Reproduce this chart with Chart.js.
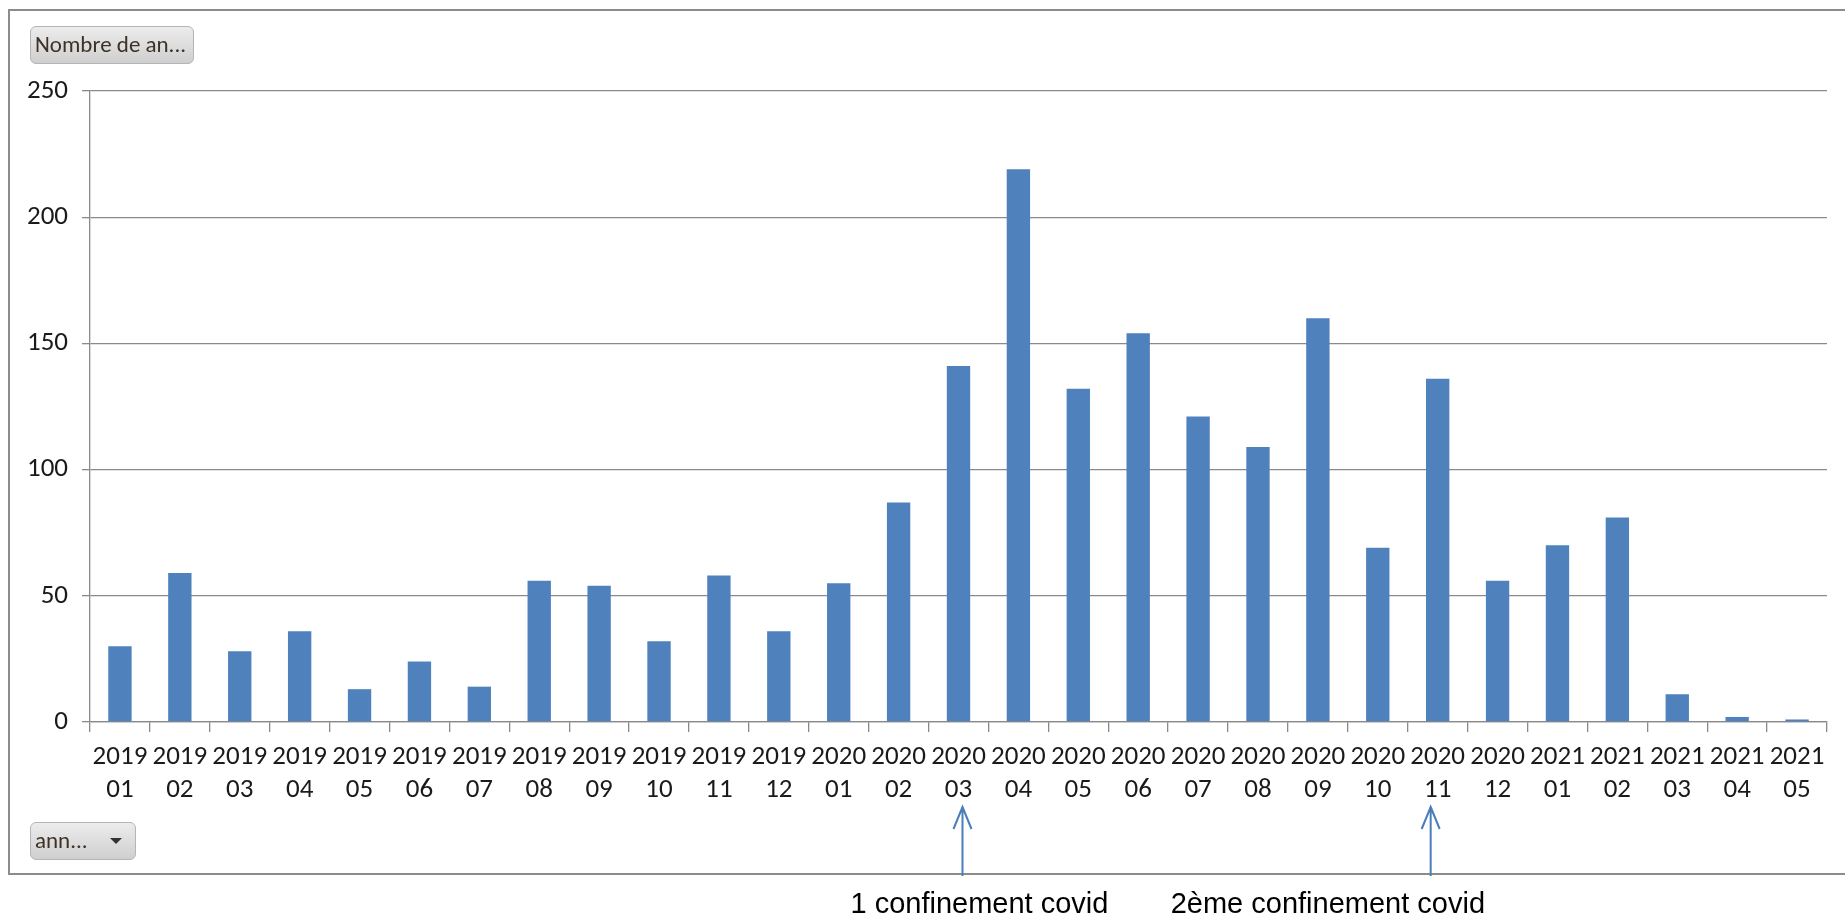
<!DOCTYPE html>
<html>
<head>
<meta charset="utf-8">
<script src="https://cdn.jsdelivr.net/npm/chart.js@4"></script>
<style>
  body { margin: 0; background: #fff; width: 1845px; height: 918px; overflow: hidden; position: relative; }
  #frame { position: absolute; left: 8px; top: 9px; width: 1860px; height: 866px; border: 2px solid #8c8c8c; border-right: none; box-sizing: border-box; }
  #chart { position: absolute; left: 0; top: 0; }
  .btn { position: absolute; box-sizing: border-box; border: 1px solid #b5b5b5; border-radius: 6px;
         background: linear-gradient(#ececec, #cfcfcf); font-family: Carlito, Lato, sans-serif; font-size: 23px;
         color: #3d3226; line-height: 35px; padding-left: 4px; }
  #btn-top { left: 30px; top: 26px; width: 164px; height: 38px; }
  #btn-bottom { left: 30px; top: 822px; width: 106px; height: 38px; }
  #btn-bottom span { position: absolute; left: 79px; top: 15px; width: 0; height: 0;
         border-left: 6px solid transparent; border-right: 6px solid transparent; border-top: 6px solid #333; }
</style>
</head>
<body>
<div id="frame"></div>
<canvas id="chart" width="1845" height="918"></canvas>
<div class="btn" id="btn-top">Nombre de an...</div>
<div class="btn" id="btn-bottom">ann...<span></span></div>
<script>
const years = ['2019', '2019', '2019', '2019', '2019', '2019', '2019', '2019', '2019', '2019', '2019', '2019',
  '2020', '2020', '2020', '2020', '2020', '2020', '2020', '2020', '2020', '2020', '2020', '2020',
  '2021', '2021', '2021', '2021', '2021'];
const months = ['01', '02', '03', '04', '05', '06', '07', '08', '09', '10', '11', '12',
  '01', '02', '03', '04', '05', '06', '07', '08', '09', '10', '11', '12',
  '01', '02', '03', '04', '05'];
const counts = [30, 59, 28, 36, 13, 24, 14, 56, 54, 32, 58, 36,
  55, 87, 141, 219, 132, 154, 121, 109, 160, 69, 136, 56,
  70, 81, 11, 2, 1];
const yTicks = [0, 50, 100, 150, 200, 250];

// annotations under the axis (arrows were hand placed, so a small nudge each)
const notes = ['1 confinement covid', '2ème confinement covid'];
const noteIndex = [14, 22];
const arrowNudge = [4, -7];
const noteShift = [-112, -260];

const labels = years.map((y, i) => [y, months[i]]);
const axisFont = { family: 'Carlito, Lato, sans-serif', size: 27, lineHeight: 1.22 };

const arrows = {
  id: 'arrows',
  afterDraw(c) {
    const ctx = c.ctx;
    const xs = c.scales.x;
    ctx.save();
    noteIndex.forEach((idx, n) => {
      const x = xs.getPixelForValue(idx) + arrowNudge[n];
      ctx.strokeStyle = '#4a7ebb';
      ctx.lineWidth = 2;
      ctx.beginPath();
      ctx.moveTo(x, 876);
      ctx.lineTo(x, 807);
      ctx.moveTo(x - 9, 829);
      ctx.lineTo(x, 807);
      ctx.lineTo(x + 9, 829);
      ctx.stroke();
      ctx.fillStyle = '#000';
      ctx.font = '29px "Liberation Sans", Arial, sans-serif';
      ctx.textBaseline = 'middle';
      ctx.textAlign = 'left';
      ctx.fillText(notes[n], x + noteShift[n], 905);
    });
    ctx.restore();
  }
};

new Chart(document.querySelector('#chart').getContext('2d'), {
  type: 'bar',
  data: {
    labels: labels,
    datasets: [{
      data: counts,
      backgroundColor: '#4f81bd',
      barPercentage: 0.39,
      categoryPercentage: 1
    }]
  },
  options: {
    responsive: false,
    animation: false,
    layout: { padding: { top: 91, right: 18, bottom: 108, left: 0 } },
    plugins: { legend: { display: false }, tooltip: { enabled: false } },
    scales: {
      x: {
        afterFit: s => { s.height = 88; },
        grid: { drawOnChartArea: false, tickLength: 10, color: '#8a8a8a', lineWidth: 1.3 },
        border: { color: '#8a8a8a', width: 1.3 },
        ticks: { autoSkip: false, maxRotation: 0, minRotation: 0, padding: 9, color: '#1a1a1a', font: axisFont }
      },
      y: {
        min: 0,
        max: 250,
        afterFit: s => { s.width = 90; },
        afterBuildTicks: s => { s.ticks = yTicks.map(v => ({ value: v })); },
        grid: { color: '#8a8a8a', lineWidth: 1.3, tickLength: 8 },
        border: { color: '#8a8a8a', width: 1.3 },
        ticks: { padding: 14, color: '#1a1a1a', font: axisFont }
      }
    }
  },
  plugins: [arrows]
});
</script>
</body>
</html>
